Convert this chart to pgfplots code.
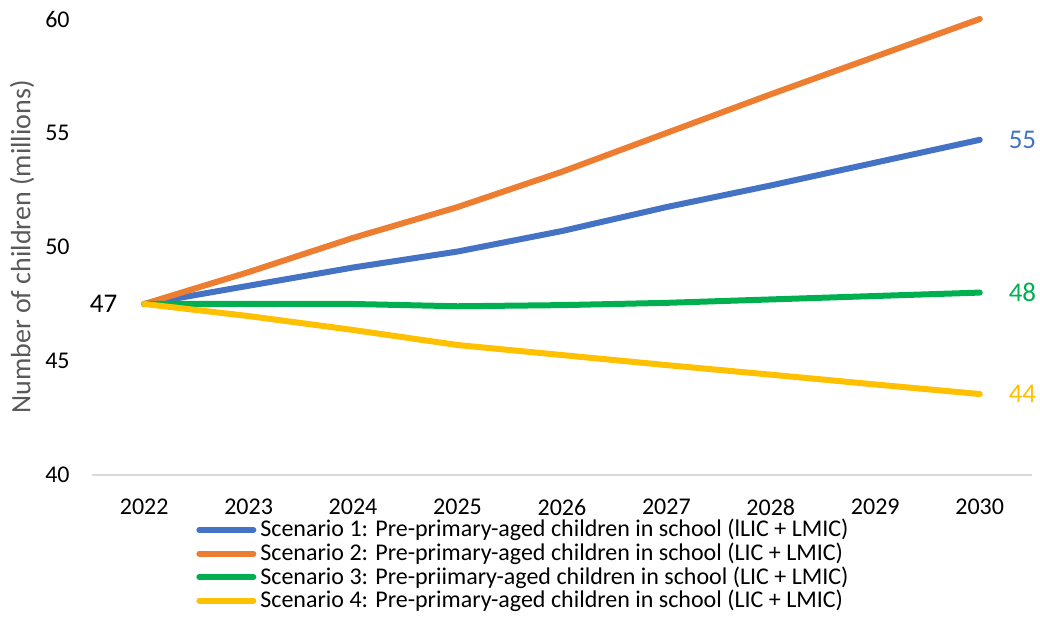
\documentclass[border=0pt]{standalone}
\usepackage{fontspec}
\setmainfont{Carlito}
\usepackage{pgfplots}
\pgfplotsset{compat=1.18}
\definecolor{s1}{HTML}{4472C4}
\definecolor{s2}{HTML}{ED7D31}
\definecolor{s3}{HTML}{00B050}
\definecolor{s4}{HTML}{FFC000}
\definecolor{axgray}{HTML}{D9D9D9}
\definecolor{labgray}{HTML}{595959}
\begin{document}
\fontsize{12pt}{14pt}\selectfont
\begin{tikzpicture}
\useasboundingbox (0,0) rectangle (520pt,309.5pt);
\begin{axis}[
  at={(46pt,72pt)}, anchor=south west,
  scale only axis, width=470pt, height=228pt,
  xmin=2021.5, xmax=2030.5, ymin=40, ymax=60,
  xtick={2022,...,2030}, ytick={40,45,...,60},
  /pgf/number format/1000 sep={},
  /pgf/number format/assume math mode=true,
  major tick length=0pt,
  axis x line*=bottom, axis y line*=left,
  x axis line style={draw=axgray, line width=1pt},
  y axis line style={draw=none},
  xticklabel style={yshift=-8pt},
  yticklabel style={xshift=-7pt},
  tick label style={font=\fontsize{12}{14}\selectfont},
  ylabel={Number of children (millions)},
  ylabel style={at={(axis description cs:-0.0745,0.5)}, anchor=center, text=labgray, font=\fontsize{14}{16}\selectfont},
  clip=false,
  legend style={at={(axis description cs:0.1106,-0.0877)}, anchor=north west, draw=none, fill=none,
    font=\fontsize{12}{14}\selectfont, row sep=-2.8pt, inner sep=0pt},
  legend cell align=left,
  legend image code/.code={\draw[#1] (0pt,0pt) -- (27pt,0pt);},
  every axis plot/.append style={line width=3pt, line cap=round, line join=round},
]
\addplot[s1] coordinates {(2022,47.5) (2023,48.3) (2024,49.1) (2025,49.8) (2026,50.7) (2027,51.75) (2028,52.7) (2029,53.7) (2030,54.7)}
  node[pos=1, anchor=west, xshift=9pt, text=s1, font=\fontsize{13.5}{15}\selectfont] {55};
\addlegendentry{Scenario 1: Pre-primary-aged children in school (lLIC + LMIC)}
\addplot[s2] coordinates {(2022,47.5) (2023,48.9) (2024,50.4) (2025,51.75) (2026,53.3) (2027,55.0) (2028,56.7) (2029,58.35) (2030,60.0)};
\addlegendentry{Scenario 2: Pre-primary-aged children in school (LIC + LMIC)}
\addplot[s3] coordinates {(2022,47.5) (2023,47.5) (2024,47.5) (2025,47.4) (2026,47.45) (2027,47.55) (2028,47.7) (2029,47.85) (2030,48.0)}
  node[pos=1, anchor=west, xshift=9pt, text=s3, font=\fontsize{13.5}{15}\selectfont] {48};
\addlegendentry{Scenario 3: Pre-priimary-aged children in school (LIC + LMIC)}
\addplot[s4] coordinates {(2022,47.5) (2023,46.97) (2024,46.36) (2025,45.7) (2026,45.26) (2027,44.82) (2028,44.4) (2029,43.97) (2030,43.55)}
  node[pos=1, anchor=west, xshift=9pt, text=s4, font=\fontsize{13.5}{15}\selectfont] {44}
  node[pos=0, anchor=east, xshift=-8pt, text=black, font=\fontsize{13.5}{15}\selectfont] {47};
\addlegendentry{Scenario 4: Pre-primary-aged children in school (LIC + LMIC)}
\end{axis}
\end{tikzpicture}
\end{document}
